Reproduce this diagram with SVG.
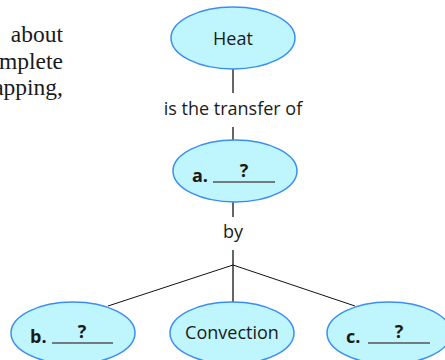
<svg xmlns="http://www.w3.org/2000/svg" width="445" height="360" viewBox="0 0 445 360">
<style>
.node ellipse{fill:#bff5fd;stroke:#3a8ef2;stroke-width:1.5}
.lbl{font-family:"Open Sans","Noto Sans",sans-serif;font-size:18px;fill:#1a1a1a;text-anchor:middle}
.b{font-family:"Open Sans","Noto Sans",sans-serif;font-size:18px;font-weight:bold;fill:#1a1a1a}
.blank{stroke:#555;stroke-width:1.6}
.v{stroke:#666;stroke-width:2}
.d{stroke:#111;stroke-width:1}
.serif{font-family:"Liberation Serif",serif;font-size:23.5px;fill:#1a1a1a;text-anchor:end}
</style>
<g id="page-text">
<text class="serif" x="63" y="42">about</text>
<text class="serif" x="63" y="68.5">mplete</text>
<text class="serif" x="63" y="95">apping,</text>
</g>
<g id="connectors">
<line class="v" x1="233" y1="69" x2="233" y2="93"/>
<line class="v" x1="233" y1="127" x2="233" y2="141"/>
<line class="v" x1="233" y1="202" x2="233" y2="217"/>
<line class="v" x1="233" y1="250" x2="233" y2="302"/>
<line class="d" x1="233" y1="265" x2="108" y2="306"/>
<line class="d" x1="233" y1="265" x2="355" y2="306"/>
</g>
<text class="lbl" x="233" y="115">is the transfer of</text>
<text class="lbl" x="233" y="238">by</text>
<g id="heat" class="node">
<ellipse cx="233" cy="38" rx="62" ry="31"/>
<text class="lbl" x="233" y="45">Heat</text>
</g>
<g id="a" class="node">
<ellipse cx="235" cy="171" rx="62" ry="31"/>
<text class="b" x="192" y="182">a.</text>
<line class="blank" x1="213" y1="182" x2="275" y2="182"/>
<text class="b" x="244" y="177" text-anchor="middle">?</text>
</g>
<g id="b" class="node">
<ellipse cx="73" cy="333" rx="62" ry="31"/>
<text class="b" x="30" y="343">b.</text>
<line class="blank" x1="52" y1="343" x2="113" y2="343"/>
<text class="b" x="82" y="338" text-anchor="middle">?</text>
</g>
<g id="convection" class="node">
<ellipse cx="232" cy="333" rx="62" ry="31"/>
<text class="lbl" x="232" y="339">Convection</text>
</g>
<g id="c" class="node">
<ellipse cx="389" cy="333" rx="62" ry="31"/>
<text class="b" x="346" y="343">c.</text>
<line class="blank" x1="368" y1="343" x2="430" y2="343"/>
<text class="b" x="399" y="338" text-anchor="middle">?</text>
</g>
</svg>
